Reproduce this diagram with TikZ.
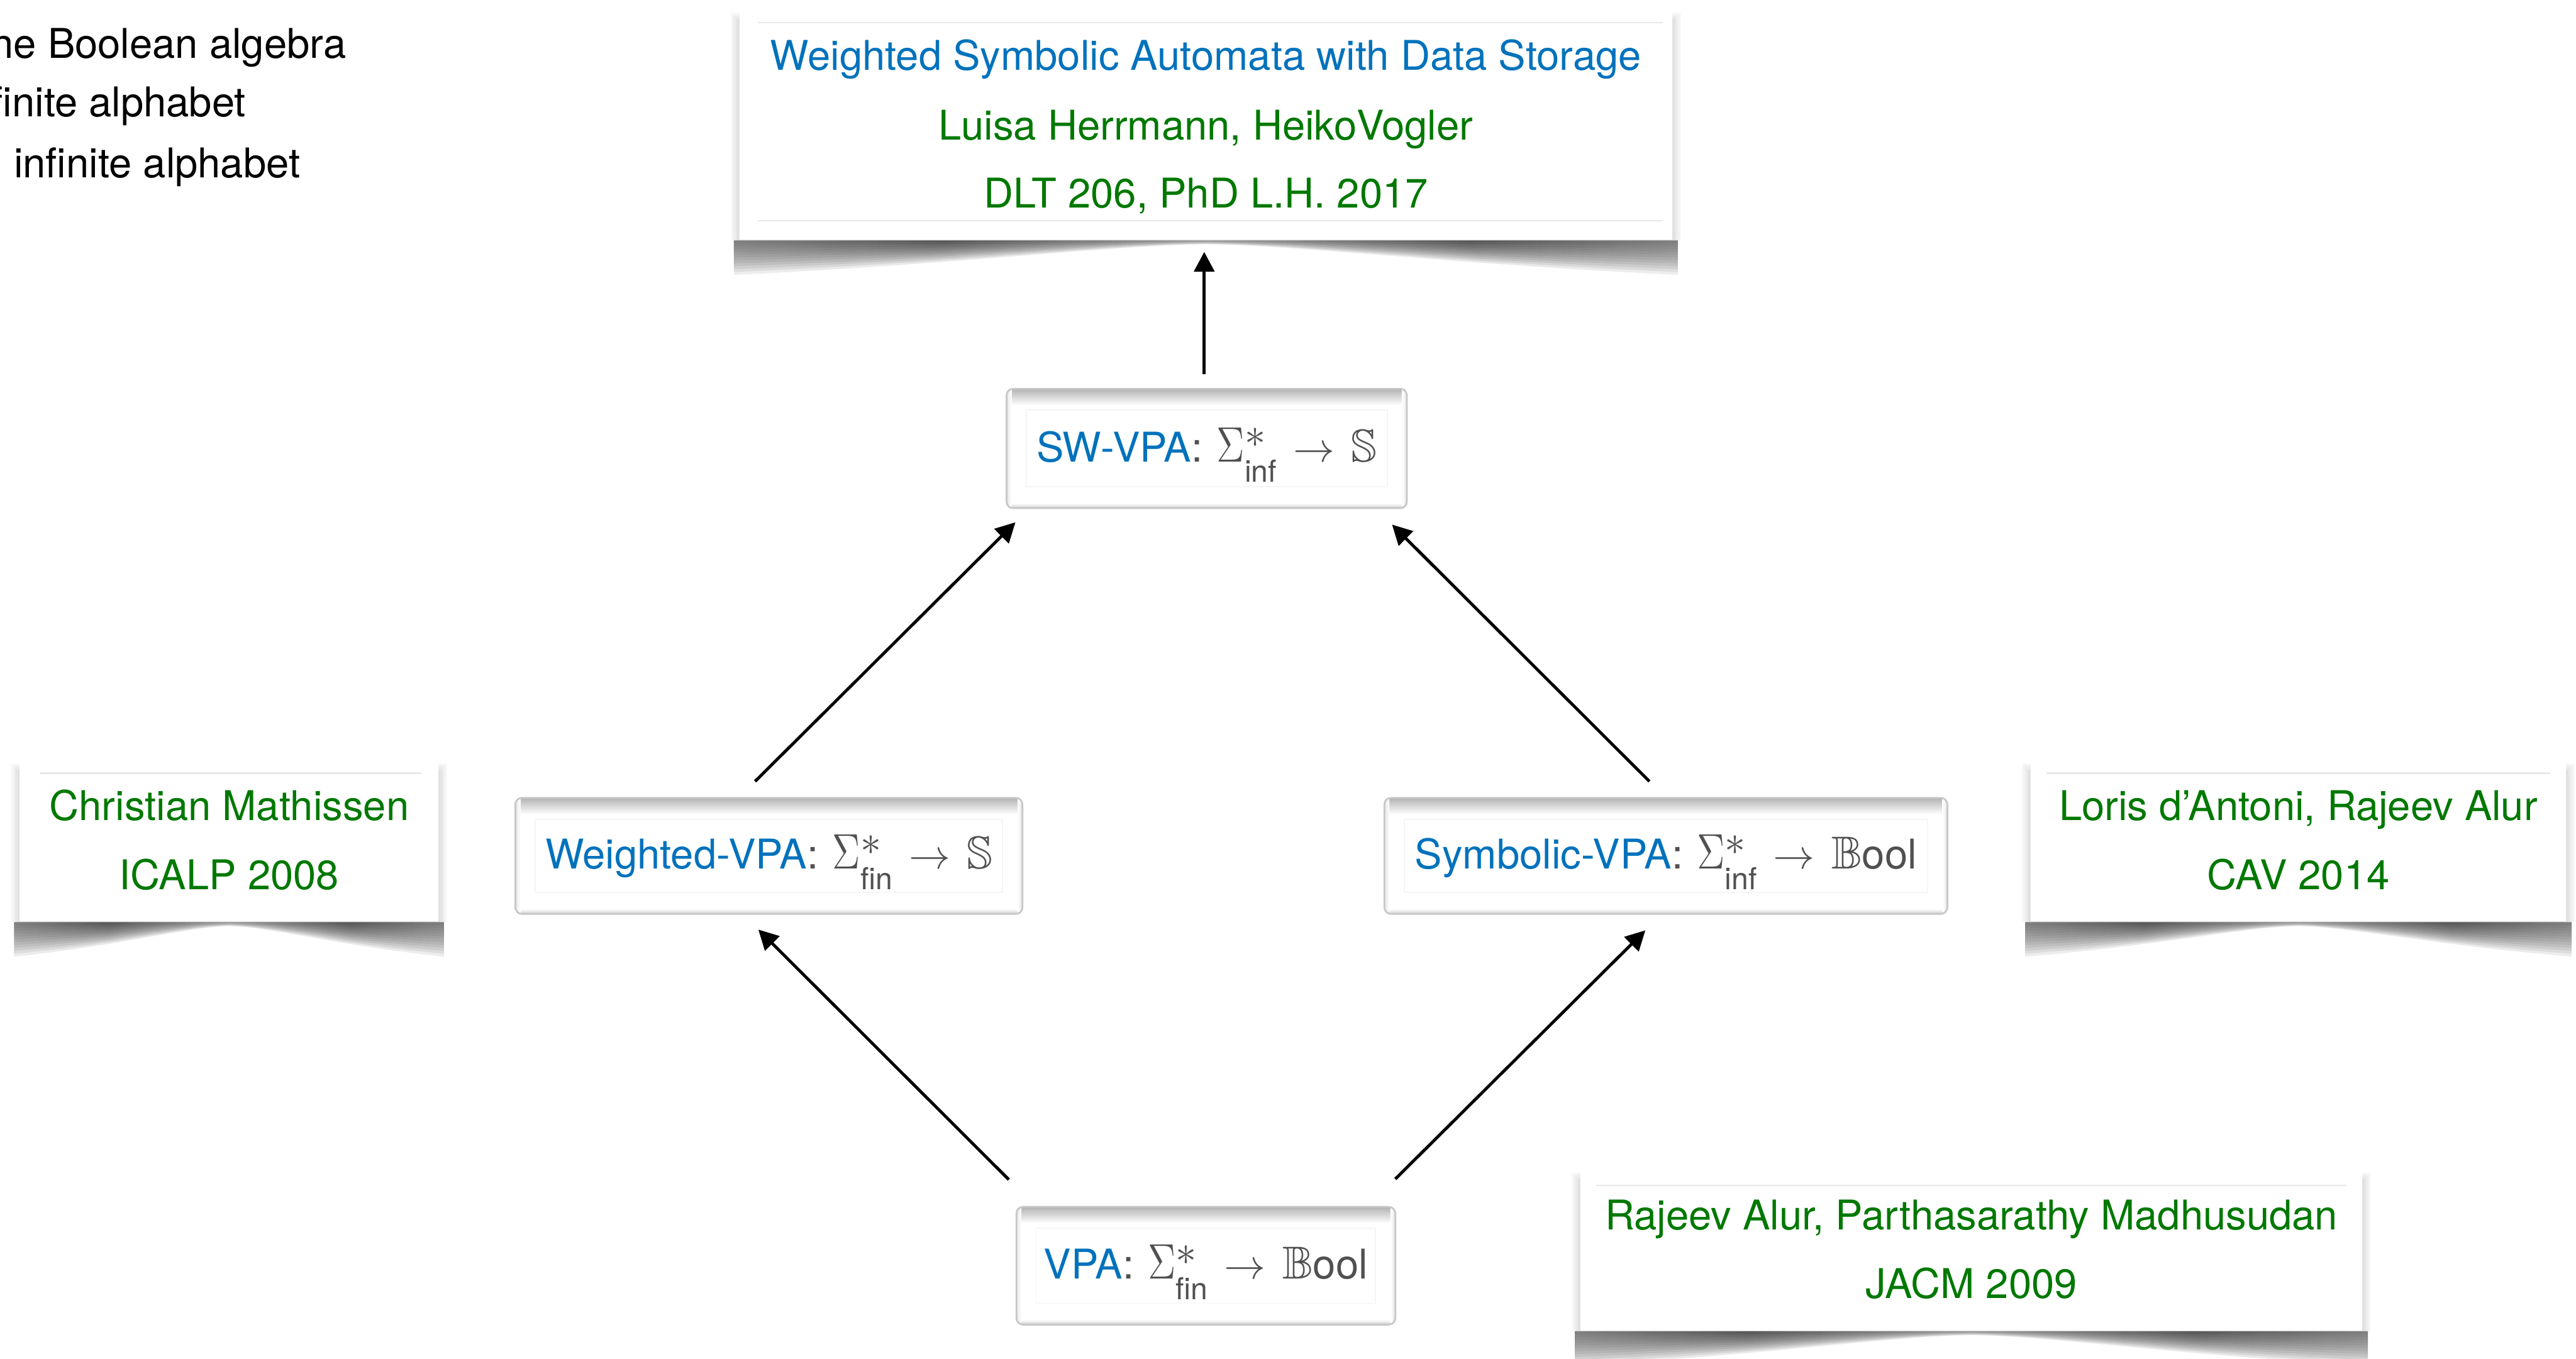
\documentclass[tikz,border=0pt]{standalone}
\usepackage[no-math]{fontspec}
\setmainfont{TeX Gyre Heros}
\usepackage{amsmath,amssymb,graphicx}
\usetikzlibrary{calc,arrows.meta,backgrounds}

\definecolor{tblue}{RGB}{0,114,188}
\definecolor{tgreen}{RGB}{0,120,0}
\definecolor{mgray}{RGB}{80,80,80}

\pgfdeclarelayer{paper}
\pgfsetlayers{paper,background,main}

% colour profile of a curled paper shadow, dark between corners and middle
\pgfdeclarehorizontalshading{curlshade}{100bp}{%
  color(0bp)=(black!32); color(14bp)=(black!45); color(36bp)=(black!88);
  color(50bp)=(black!55); color(64bp)=(black!88); color(86bp)=(black!45);
  color(100bp)=(black!32)}

% Sigma with a star above and an alphabet index below
\newcommand\sigstar[1]{%
  \hspace{0.17cm}\scalebox{0.95}[1.2]{$\Sigma$}%
  \rlap{\raisebox{0.17cm}{\fontsize{13.5}{13}\selectfont$\ast$}}%
  \raisebox{-0.25cm}{\fontsize{10.5}{10}\selectfont #1}%
  \hspace{0.2cm}{\fontsize{13.5}{14}\selectfont$\to$}\hspace{0.2cm}}
\newcommand\semiS{{\fontsize{16}{16}\selectfont$\mathbb{S}$}}
\newcommand\boolB{{\fontsize{16}{16}\selectfont$\mathbb{B}$}ool}

% automaton box: name, centre, width, height, label
\newcommand\drawvbox[5]{%
  \node[vbox, minimum width=#3, minimum height=#4] (#1) at #2 {};
  \begin{scope}
    \clip[rounded corners=0.08cm] (#1.north west) rectangle (#1.south east);
    \shade[top color=black!30, bottom color=white] (#1.north west) rectangle ($(#1.north east)+(0,10)$);
    \shade[top color=white, bottom color=black!20] ($(#1.south west)+(0,-3)$) rectangle (#1.south east);
    \shade[left color=black!10, right color=white] (#1.north west) rectangle ($(#1.south west)+(3,0)$);
    \shade[left color=white, right color=black!10] ($(#1.north east)+(-3,0)$) rectangle (#1.south east);
  \end{scope}
  \draw[black!22, line width=0.6pt, rounded corners=0.08cm] (#1.north west) rectangle (#1.south east);
  \draw[black!4, line width=0.4pt] ($(#1.north west)+(12,13)$) rectangle ($(#1.south east)+(-12,-13)$);
  \node[txt] (#1-label) at ($(#1.center)+(0,8)$) {#5};
}

% reference card with a curled shadow: name, centre, width, height;
% the shadow is a stack of nested translucent lobes, so it fades downwards
\newcommand\drawcard[4]{%
  \node[card, minimum width=#3, minimum height=#4] (#1) at #2 {};
  \begin{pgfonlayer}{background}
    \foreach \i in {1,...,5}{
      \fill[black, opacity=0.025] ($(#1.north west)+(-\i,10-\i)$) rectangle ($(#1.south east)+(\i,0)$);
    }
    \foreach \s in {0.1,0.2,...,1.2}{
      \shade[shading=curlshade, opacity=0.1]
        ($(#1.south west)+(-3,0)$) -- ($(#1.south east)+(3,0)$) -- ($(#1.south east)+(3,17.5*\s)$)
        .. controls ($(#1.south west)!0.75!(#1.south east)+(0,11.5*\s)$) and ($(#1.south west)!0.6!(#1.south east)+(0,2.5*\s)$)
        .. ($(#1.south west)!0.5!(#1.south east)+(0,2*\s)$)
        .. controls ($(#1.south west)!0.4!(#1.south east)+(0,2.5*\s)$) and ($(#1.south west)!0.25!(#1.south east)+(0,11.5*\s)$)
        .. ($(#1.south west)+(-3,17.5*\s)$) -- cycle;
    }
  \end{pgfonlayer}
}

\begin{document}
\begin{tikzpicture}[x=0.02cm, y=-0.02cm,
  every node/.style={font=\fontsize{14.2}{17}\selectfont},
  vbox/.style={rectangle, rounded corners=0.08cm, fill=white, draw=none, inner sep=0pt},
  card/.style={rectangle, fill=white, draw=none, inner sep=0pt},
  txt/.style={inner sep=0pt, anchor=base},
  rule/.style={black!9, line width=0.5pt},
  arr/.style={-{Triangle[length=0.24cm, width=0.245cm]}, line width=1.05pt, black}]

\useasboundingbox (0,0) rectangle (1568,827);
\begin{pgfonlayer}{paper}
  \fill[white] (0,0) rectangle (1568,827);
\end{pgfonlayer}
\clip (0,0) rectangle (1568,827);

% legend in the upper left corner
\node[txt, anchor=base east] (leg1) at (211,35.5) {the Boolean algebra};
\node[txt, anchor=base east] (leg2) at (150,71) {finite alphabet};
\node[txt, anchor=base east] (leg3) at (183,108) {infinite alphabet};

% reference cards
\drawcard{top}{(734,74.5)}{11.36cm}{2.86cm}
\draw[rule] ($(top.north west)+(12,11)$) -- ($(top.north east)+(-6,11)$);
\draw[rule] ($(top.south west)+(12,-12)$) -- ($(top.south east)+(-6,-12)$);
\node[txt, text=tblue] (top-title) at ($(top.center)+(0,-32)$) {Weighted Symbolic Automata with Data Storage};
\node[txt, text=tgreen] (top-auth) at ($(top.center)+(0,10.5)$) {Luisa Herrmann, HeikoVogler};
\node[txt, text=tgreen] (top-pub) at ($(top.center)+(0,52.2)$) {DLT 206, PhD L.H. 2017};

\drawcard{left}{(139.5,510.5)}{5.10cm}{2.02cm}
\draw[rule] ($(left.north west)+(13,11)$) -- ($(left.north east)+(-11,11)$);
\node[txt, text=tgreen] (left-auth) at ($(left.center)+(0,-11.2)$) {Christian Mathissen};
\node[txt, text=tgreen] (left-pub) at ($(left.center)+(0,30.8)$) {ICALP 2008};

\drawcard{right}{(1399,510.5)}{6.52cm}{2.02cm}
\draw[rule] ($(right.north west)+(10,11)$) -- ($(right.north east)+(-10,11)$);
\node[txt, text=tgreen] (right-auth) at ($(right.center)+(0,-11.2)$) {Loris d’Antoni, Rajeev Alur};
\node[txt, text=tgreen] (right-pub) at ($(right.center)+(0,30.8)$) {CAV 2014};

\drawcard{bottom}{(1200,759.5)}{9.52cm}{2.02cm}
\draw[rule] ($(bottom.north west)+(10,13)$) -- ($(bottom.north east)+(-10,13)$);
\node[txt, text=tgreen] (bottom-auth) at ($(bottom.center)+(0,-10.9)$) {Rajeev Alur, Parthasarathy Madhusudan};
\node[txt, text=tgreen] (bottom-pub) at ($(bottom.center)+(0,31)$) {JACM 2009};

% automaton classes
\drawvbox{sw}{(734.5,273)}{4.86cm}{1.44cm}
  {\textcolor{tblue}{SW-VPA}\textcolor{mgray}{:\sigstar{inf}\semiS}}
\drawvbox{wv}{(468,521)}{6.16cm}{1.40cm}
  {\textcolor{tblue}{Weighted-VPA}\textcolor{mgray}{:\sigstar{fin}\semiS}}
\drawvbox{sv}{(1014,521)}{6.84cm}{1.40cm}
  {\textcolor{tblue}{Symbolic-VPA}\textcolor{mgray}{:\sigstar{inf}\boolB}}
\drawvbox{vpa}{(734,770.5)}{4.60cm}{1.42cm}
  {\textcolor{tblue}{VPA}\textcolor{mgray}{:\sigstar{fin}\boolB}}

% generalisation arrows
\draw[arr] ($(sw.north)+(-1.5,-9)$) -- ($(top.south)+(-1,7)$);
\draw[arr] ($(wv.north)+(-8.4,-10)$) -- ($(sw.south west)+(5.4,8.6)$);
\draw[arr] ($(sv.north)+(-10,-10)$) -- ($(sw.south east)+(-9,10)$);
\draw[arr] ($(vpa.north west)+(-4.6,-16.6)$) -- ($(wv.south)+(-6.4,9.5)$);
\draw[arr] ($(vpa.north east)+(0,-17)$) -- ($(sv.south)+(-12.5,10)$);

\end{tikzpicture}
\end{document}
